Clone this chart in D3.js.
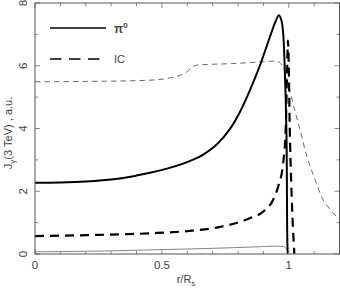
<!DOCTYPE html>
<html>
<head>
<meta charset="utf-8">
<script src="https://cdn.jsdelivr.net/npm/d3@7"></script>
<style>
  body { margin: 0; background: #fff; }
  text { font-family: "Liberation Sans", Arial, sans-serif; fill: #444; }
</style>
</head>
<body>
<svg id="chart" width="340" height="289"></svg>
<script>
// pi0 emission (thick solid)
var piX = [0, 0.1, 0.2, 0.31, 0.4, 0.453, 0.52, 0.584, 0.63, 0.663, 0.715, 0.768, 0.807, 0.846, 0.886, 0.925, 0.945, 0.961, 0.971, 0.978, 0.984, 0.991, 0.995, 0.997];
var piY = [2.27, 2.28, 2.31, 2.38, 2.5, 2.59, 2.72, 2.88, 3.03, 3.17, 3.48, 3.98, 4.52, 5.2, 6.0, 6.9, 7.35, 7.61, 7.45, 7.03, 5.97, 3.85, 0.23, 0];

// IC emission (thick dashed)
var icX = [0, 0.2, 0.453, 0.6, 0.715, 0.846, 0.899, 0.938, 0.958, 0.978, 0.988, 0.994, 0.997, 1.0, 1.004, 1.01, 1.022];
var icY = [0.57, 0.6, 0.66, 0.73, 0.84, 1.14, 1.35, 1.72, 2.14, 2.9, 4.0, 6.0, 6.8, 6.0, 4.0, 2.2, 0];

// thin dashed
var thinDashX = [0, 0.2, 0.453, 0.584, 0.636, 0.78, 0.886, 0.951, 0.978, 0.997, 1.02, 1.043, 1.07, 1.1, 1.134, 1.16, 1.19, 1.2];
var thinDashY = [5.49, 5.5, 5.54, 5.73, 6.02, 6.07, 6.12, 6.15, 5.97, 5.44, 4.7, 4.0, 3.15, 2.45, 1.75, 1.45, 1.18, 1.1];

// thin solid
var thinSolidX = [0, 0.3, 0.45, 0.7, 0.85, 0.95, 0.98, 0.995, 1.0];
var thinSolidY = [0.07, 0.1, 0.13, 0.18, 0.22, 0.25, 0.24, 0.1, 0];

var xTicks = [0, 0.5, 1];
var xTickLabels = ["0", "0.5", "1"];
var yTicks = [0, 2, 4, 6, 8];

var svg = d3.select("#chart");
var pLeft = 35, pRight = 339.5, pTop = 3, pBottom = 254;

var x = d3.scaleLinear().domain([0, 1.2]).range([pLeft, pRight]);
var y = d3.scaleLinear().domain([0, 8]).range([pBottom, pTop]);

function pts(xs, ys) { return xs.map(function(v, i) { return [v, ys[i]]; }); }

var line = d3.line()
    .x(function(d) { return x(d[0]); })
    .y(function(d) { return y(d[1]); })
    .curve(d3.curveMonotoneX);

// smoother spline for the pi0 curve
var smoothLine = d3.line()
    .x(function(d) { return x(d[0]); })
    .y(function(d) { return y(d[1]); })
    .curve(d3.curveCatmullRom.alpha(0.5));

svg.append("clipPath").attr("id", "clip")
  .append("rect").attr("x", pLeft).attr("y", pTop).attr("width", pRight - pLeft).attr("height", pBottom - pTop);

var g = svg.append("g").attr("clip-path", "url(#clip)");

g.append("path").datum(pts(thinSolidX, thinSolidY))
  .attr("d", line).attr("fill", "none").attr("stroke", "#666").attr("stroke-width", 0.8);

g.append("path").datum(pts(thinDashX, thinDashY))
  .attr("d", line).attr("fill", "none").attr("stroke", "#444").attr("stroke-width", 0.8)
  .attr("stroke-dasharray", "5.5,4");

g.append("path").datum(pts(icX, icY))
  .attr("d", line).attr("fill", "none").attr("stroke", "#000").attr("stroke-width", 2.2)
  .attr("stroke-dasharray", "9,6");

g.append("path").datum(pts(piX, piY))
  .attr("d", smoothLine).attr("fill", "none").attr("stroke", "#000").attr("stroke-width", 2);

// ticks (inward) on all sides
var tickCol = "#888";
d3.range(0, 1.21, 0.1).forEach(function(t) {
  var major = Math.abs(t * 2 - Math.round(t * 2)) < 1e-6;
  var len = major ? 5 : 3;
  svg.append("line").attr("x1", x(t)).attr("x2", x(t)).attr("y1", pBottom).attr("y2", pBottom - len)
    .attr("stroke", tickCol).attr("stroke-width", 1);
  svg.append("line").attr("x1", x(t)).attr("x2", x(t)).attr("y1", pTop).attr("y2", pTop + len)
    .attr("stroke", tickCol).attr("stroke-width", 1);
});
d3.range(0, 8.01, 1).forEach(function(t) {
  var len = (t % 2 === 0) ? 5 : 3;
  svg.append("line").attr("x1", pLeft).attr("x2", pLeft + len).attr("y1", y(t)).attr("y2", y(t))
    .attr("stroke", tickCol).attr("stroke-width", 1);
  svg.append("line").attr("x1", pRight).attr("x2", pRight - len).attr("y1", y(t)).attr("y2", y(t))
    .attr("stroke", tickCol).attr("stroke-width", 1);
});

// frame
svg.append("rect").attr("x", pLeft).attr("y", pTop).attr("width", pRight - pLeft).attr("height", pBottom - pTop)
  .attr("fill", "none").attr("stroke", "#555").attr("stroke-width", 1);

// tick labels
svg.selectAll(".xl").data(xTicks).enter().append("text")
  .attr("x", function(d) { return x(d); }).attr("y", 269)
  .attr("text-anchor", "middle").attr("font-size", 11.5)
  .text(function(d, i) { return xTickLabels[i]; });

svg.selectAll(".yl").data(yTicks).enter().append("text")
  .attr("transform", function(d) { return "translate(27," + y(d) + ") rotate(-90)"; })
  .attr("text-anchor", "middle").attr("font-size", 11.5)
  .text(function(d) { return d; });

// axis titles
var xt = svg.append("text").attr("x", 186).attr("y", 283).attr("text-anchor", "middle").attr("font-size", 11);
xt.append("tspan").text("r/R");
xt.append("tspan").attr("font-size", 8).attr("dy", 3).text("s");

var yt = svg.append("text").attr("transform", "translate(12,133) rotate(-90)")
  .attr("text-anchor", "middle").attr("font-size", 11);
yt.append("tspan").text("J");
yt.append("tspan").attr("font-size", 8).attr("dy", 3).text("γ");
yt.append("tspan").attr("dy", -3).text("(3 TeV) , a.u.");

// legend
svg.append("line").attr("x1", 50).attr("x2", 106).attr("y1", 28).attr("y2", 28)
  .attr("stroke", "#000").attr("stroke-width", 1.4);
var lt = svg.append("text").attr("x", 114).attr("y", 33).attr("font-size", 12).attr("font-weight", "bold");
lt.append("tspan").text("π");
lt.append("tspan").attr("font-size", 8).attr("dy", -5).text("0");

svg.append("line").attr("x1", 50).attr("x2", 106).attr("y1", 59).attr("y2", 59)
  .attr("stroke", "#000").attr("stroke-width", 1.4).attr("stroke-dasharray", "11.5,7.5");
svg.append("text").attr("x", 114).attr("y", 63).attr("font-size", 11).text("IC");
</script>
</body>
</html>
